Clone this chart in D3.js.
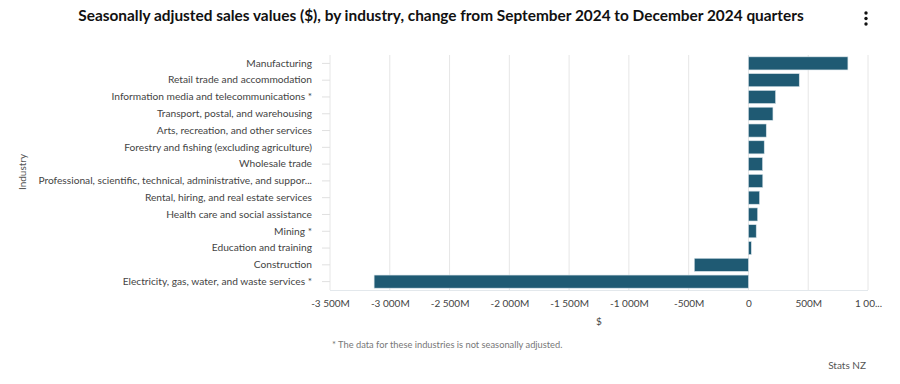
<!DOCTYPE html>
<html>
<head>
<meta charset="utf-8">
<script src="https://cdn.jsdelivr.net/npm/d3@7"></script>
<style>
  body { margin: 0; background: #fff; }
  svg { display: block; font-family: Lato, "Open Sans", sans-serif; }
</style>
</head>
<body>
<script>
// industries, top to bottom
const industries = [
  "Manufacturing",
  "Retail trade and accommodation",
  "Information media and telecommunications *",
  "Transport, postal, and warehousing",
  "Arts, recreation, and other services",
  "Forestry and fishing (excluding agriculture)",
  "Wholesale trade",
  "Professional, scientific, technical, administrative, and suppor...",
  "Rental, hiring, and real estate services",
  "Health care and social assistance",
  "Mining *",
  "Education and training",
  "Construction",
  "Electricity, gas, water, and waste services *"
];

// change in $ millions
const changes = [832, 425, 227, 205, 149, 132, 118, 120, 93, 77, 65, 24, -453, -3131];

const tickValues = [-3500, -3000, -2500, -2000, -1500, -1000, -500, 0, 500, 1000];
const tickLabels = ["-3 500M", "-3 000M", "-2 500M", "-2 000M", "-1 500M", "-1 000M", "-500M", "0", "500M", "1 00..."];

const width = 900;
const height = 384;
const margin = { top: 55, right: 32, bottom: 94, left: 330 };

const svg = d3.select("body").append("svg")
  .attr("width", width)
  .attr("height", height);

const x = d3.scaleLinear()
  .domain([-3500, 1000])
  .range([margin.left, width - margin.right]);

const y = d3.scaleBand()
  .domain(industries)
  .range([margin.top, height - margin.bottom])
  .paddingInner(0.22)
  .paddingOuter(0.11);

// title
svg.append("text")
  .attr("x", 441)
  .attr("y", 21)
  .attr("text-anchor", "middle")
  .attr("font-weight", "bold")
  .attr("font-size", 15.4)
  .attr("fill", "#111")
  .text("Seasonally adjusted sales values ($), by industry, change from September 2024 to December 2024 quarters");

// menu dots
svg.append("g")
  .selectAll("circle")
  .data([13, 18.5, 24])
  .join("circle")
  .attr("cx", 866)
  .attr("cy", d => d)
  .attr("r", 1.7)
  .attr("fill", "#111");

// grid
svg.append("g")
  .selectAll("line")
  .data(tickValues)
  .join("line")
  .attr("x1", d => x(d))
  .attr("x2", d => x(d))
  .attr("y1", margin.top)
  .attr("y2", height - margin.bottom)
  .attr("stroke", "#e6e6e6");

svg.append("line")
  .attr("x1", margin.left)
  .attr("x2", width - margin.right)
  .attr("y1", height - margin.bottom + 0.5)
  .attr("y2", height - margin.bottom + 0.5)
  .attr("stroke", "#e3e8ec");

// bars
svg.append("g")
  .selectAll("rect")
  .data(industries)
  .join("rect")
  .attr("x", (d, i) => x(Math.min(0, changes[i])))
  .attr("y", d => y(d))
  .attr("width", (d, i) => Math.abs(x(changes[i]) - x(0)))
  .attr("height", y.bandwidth())
  .attr("fill", "#1f5a73")
  .attr("stroke", "#d6e2e8")
  .attr("stroke-width", 0.6);

// y axis
const yAxis = svg.append("g")
  .attr("transform", `translate(${margin.left},0)`)
  .call(d3.axisLeft(y).tickSize(8).tickPadding(10));
yAxis.select(".domain").remove();
yAxis.selectAll(".tick line").attr("stroke", "#e0e0e0");
yAxis.selectAll(".tick text")
  .attr("fill", "#444")
  .attr("font-size", 10.2)
  .attr("font-family", "Lato, sans-serif");

// x axis
const xAxis = svg.append("g")
  .attr("transform", `translate(0,${height - margin.bottom})`)
  .call(d3.axisBottom(x).tickValues(tickValues)
    .tickFormat((d, i) => tickLabels[i]).tickSize(0).tickPadding(10));
xAxis.select(".domain").remove();
xAxis.selectAll(".tick text")
  .attr("fill", "#444")
  .attr("font-size", 10)
  .attr("font-family", "Lato, sans-serif");

// axis titles
svg.append("text")
  .attr("x", (x.range()[0] + x.range()[1]) / 2)
  .attr("y", 325)
  .attr("text-anchor", "middle")
  .attr("font-size", 10)
  .attr("fill", "#444")
  .text("$");

svg.append("text")
  .attr("transform", "translate(26,172) rotate(-90)")
  .attr("text-anchor", "middle")
  .attr("font-size", 10)
  .attr("fill", "#555")
  .text("Industry");

// footnote + credit
svg.append("text")
  .attr("x", 332)
  .attr("y", 348)
  .attr("font-size", 9.3)
  .attr("fill", "#777")
  .text("* The data for these industries is not seasonally adjusted.");

svg.append("text")
  .attr("x", 866)
  .attr("y", 369)
  .attr("text-anchor", "end")
  .attr("font-size", 10)
  .attr("fill", "#555")
  .text("Stats NZ");
</script>
</body>
</html>
